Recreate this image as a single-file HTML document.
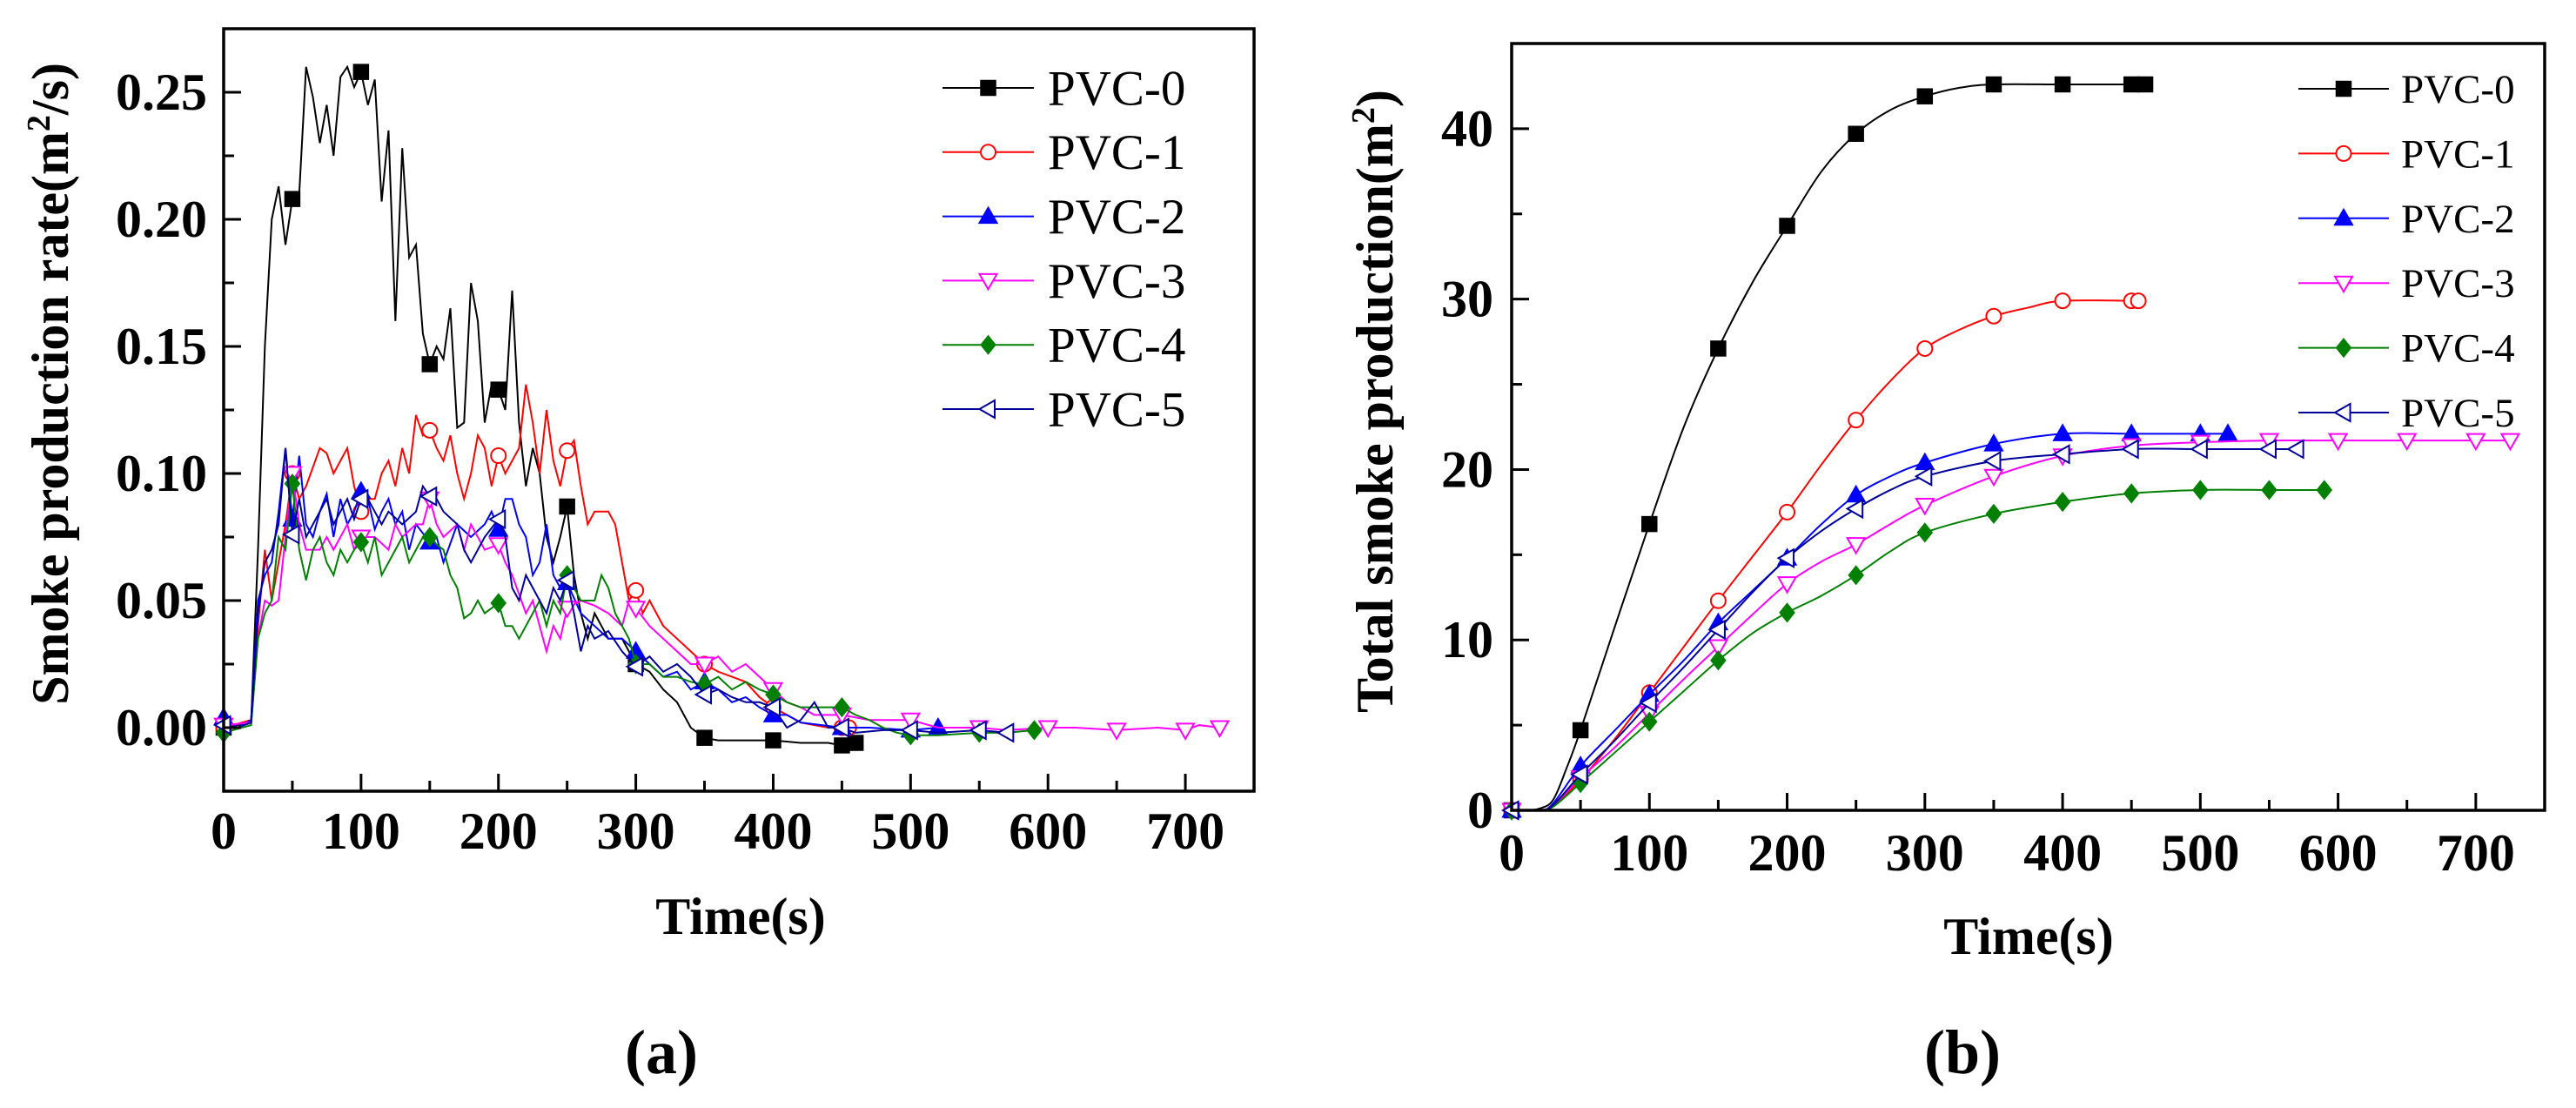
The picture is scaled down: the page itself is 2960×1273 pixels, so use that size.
<!DOCTYPE html>
<html><head><meta charset="utf-8">
<style>
html,body{margin:0;padding:0;background:#fff;}
svg{display:block;}
text{font-family:"Liberation Serif",serif;}
</style></head>
<body>
<svg id="fig" width="2960" height="1273" viewBox="0 0 2960 1273" xmlns="http://www.w3.org/2000/svg"></svg>
<script>
// ---------- Chart (a): smoke production rate ----------
const rateT0 = [0,10,20,25,30,35,40,45,50,55,60,65,70,75,80,85,90,95,100,105,110,115,120,125,130,135,140,145,150,155,160,165,170,175,180,185,190,195,200,205,210,215,220,225,230,235,240,245,250,255,260,265,270,275,280,290,300,310,320,330,340,350,360,380,400,420,440,450,460];
const rateV0 = [0,0.001,0.002,0.07,0.15,0.2,0.213,0.19,0.208,0.21,0.26,0.248,0.23,0.245,0.225,0.256,0.26,0.252,0.258,0.245,0.255,0.207,0.235,0.16,0.228,0.185,0.19,0.155,0.143,0.15,0.145,0.165,0.118,0.12,0.175,0.16,0.12,0.135,0.133,0.125,0.172,0.12,0.095,0.11,0.1,0.075,0.065,0.075,0.087,0.06,0.045,0.035,0.045,0.04,0.035,0.035,0.025,0.022,0.015,0.01,0,-0.004,-0.005,-0.005,-0.005,-0.006,-0.006,-0.007,-0.006];
const rateT1 = [0,20,25,30,35,40,45,50,55,60,70,75,80,90,95,100,105,110,115,120,125,130,135,140,145,150,155,160,165,170,175,180,185,190,195,200,205,210,215,220,225,230,235,240,245,250,255,260,265,270,280,285,290,295,300,305,310,320,330,340,350,360,370,380,390,400,420,440,450,455];
const rateV1 = [0,0.003,0.04,0.07,0.05,0.065,0.08,0.1,0.09,0.095,0.11,0.108,0.1,0.11,0.095,0.085,0.09,0.09,0.1,0.105,0.095,0.11,0.1,0.123,0.115,0.117,0.11,0.105,0.115,0.1,0.09,0.1,0.115,0.11,0.095,0.107,0.1,0.105,0.11,0.135,0.12,0.1,0.125,0.105,0.095,0.109,0.113,0.095,0.08,0.085,0.085,0.08,0.065,0.05,0.054,0.045,0.05,0.04,0.035,0.03,0.025,0.022,0.02,0.018,0.012,0.008,0.002,0,0,0];
const rateT2 = [0,10,20,25,30,35,40,45,50,55,60,65,70,75,80,85,90,95,100,105,110,115,120,125,130,135,140,150,155,160,170,180,190,195,200,205,210,215,220,225,230,235,240,245,250,260,270,280,290,300,310,320,330,340,350,360,370,380,390,400,410,420,450,470,500,520];
const rateV2 = [0.004,0,0.003,0.05,0.06,0.065,0.085,0.11,0.082,0.107,0.08,0.075,0.085,0.092,0.075,0.09,0.08,0.085,0.093,0.09,0.078,0.085,0.09,0.08,0.085,0.07,0.08,0.073,0.075,0.065,0.08,0.075,0.08,0.085,0.078,0.09,0.09,0.08,0.075,0.06,0.065,0.08,0.06,0.055,0.057,0.045,0.04,0.035,0.035,0.03,0.025,0.02,0.022,0.015,0.018,0.015,0.01,0.012,0.008,0.005,0.005,0.002,0,0,-0.001,0];
const rateT3 = [0,20,25,30,35,40,45,50,55,60,70,75,80,90,95,100,110,120,125,130,140,145,150,155,160,170,175,180,190,200,205,210,220,225,230,235,240,245,250,260,270,280,290,295,300,310,320,330,340,350,360,370,380,390,400,410,420,430,450,470,500,520,550,570,600,620,650,680,700,710,725];
const rateV3 = [0.001,0.002,0.035,0.05,0.048,0.05,0.075,0.1,0.08,0.07,0.07,0.075,0.07,0.08,0.07,0.075,0.075,0.07,0.08,0.075,0.08,0.08,0.09,0.08,0.075,0.08,0.07,0.08,0.07,0.072,0.065,0.06,0.045,0.05,0.04,0.03,0.04,0.035,0.047,0.05,0.048,0.045,0.04,0.05,0.047,0.04,0.035,0.03,0.025,0.025,0.028,0.022,0.025,0.02,0.015,0.01,0.008,0.005,0.005,0.003,0.003,0,0,-0.001,0,0,-0.001,0,-0.001,0.001,0];
const rateT4 = [0,20,25,30,35,40,45,50,55,60,65,70,75,80,85,90,95,100,105,110,115,120,125,130,135,140,145,150,155,160,165,170,175,180,185,190,200,205,210,215,220,225,230,235,240,245,250,255,260,270,275,280,285,290,295,300,310,320,330,340,350,360,370,380,390,400,410,420,430,440,450,460,470,480,490,500,520,550,570,590];
const rateV4 = [-0.002,0.001,0.035,0.045,0.05,0.075,0.07,0.096,0.07,0.058,0.07,0.075,0.065,0.06,0.07,0.065,0.07,0.073,0.065,0.075,0.06,0.065,0.07,0.075,0.065,0.07,0.075,0.075,0.072,0.07,0.06,0.055,0.043,0.045,0.05,0.045,0.049,0.04,0.04,0.035,0.04,0.045,0.05,0.04,0.05,0.045,0.06,0.055,0.05,0.05,0.06,0.055,0.045,0.04,0.035,0.025,0.025,0.02,0.02,0.018,0.017,0.02,0.015,0.018,0.015,0.013,0.01,0.008,0.008,0.008,0.008,0.005,0.003,0,-0.002,-0.003,-0.003,-0.002,-0.002,-0.001];
const rateT5 = [0,10,20,25,30,35,40,45,50,55,60,65,70,75,80,85,90,95,100,105,110,115,120,130,140,145,150,155,160,170,175,180,190,200,205,210,215,220,225,230,235,240,245,250,255,260,265,270,280,290,300,310,320,330,340,350,360,370,380,390,400,410,420,430,440,450,460,480,500,520,550,570];
const rateV5 = [0.001,0,0.002,0.045,0.065,0.07,0.08,0.11,0.076,0.09,0.075,0.08,0.085,0.09,0.08,0.085,0.09,0.082,0.09,0.09,0.085,0.08,0.085,0.08,0.085,0.095,0.091,0.09,0.085,0.08,0.07,0.065,0.075,0.082,0.075,0.055,0.05,0.06,0.055,0.05,0.045,0.055,0.05,0.058,0.045,0.03,0.04,0.035,0.038,0.03,0.024,0.028,0.022,0.025,0.02,0.013,0.015,0.012,0.01,0.01,0.008,0,0.003,0.01,0,0,-0.002,-0.001,-0.001,-0.002,-0.001,-0.002];

// ---------- Chart (b): total smoke production ----------
const totT0 = [0,10,20,30,40,50,75,100,125,150,175,200,225,250,275,300,325,350,400,450,460];
const totV0 = [0,0,0.1,0.6,2.5,4.7,10.8,16.8,22.5,27.1,31,34.3,37.5,39.7,41.1,41.9,42.4,42.6,42.6,42.6,42.6];
const totT1 = [0,20,30,50,75,100,125,150,175,200,225,250,275,300,325,350,375,400,450,455];
const totV1 = [0,0,0.3,1.8,4.2,6.9,9.6,12.3,14.9,17.5,20.3,22.9,25.2,27.1,28.2,29.0,29.5,29.9,29.9,29.9];
const totT2 = [0,20,30,50,75,100,125,150,175,200,225,250,275,300,350,400,450,500,520];
const totV2 = [0,0,0.4,2.6,4.7,6.8,8.8,11.0,12.9,14.8,16.8,18.5,19.6,20.4,21.5,22.1,22.1,22.1,22.1];
const totT3 = [0,20,30,50,75,100,125,150,175,200,225,250,275,300,350,400,450,500,550,600,650,700,725];
const totV3 = [0,0,0.3,1.9,3.7,5.7,7.7,9.6,11.5,13.3,14.6,15.6,16.8,17.9,19.6,20.8,21.4,21.6,21.7,21.7,21.7,21.7,21.7];
const totT4 = [0,20,30,50,75,100,125,150,175,200,225,250,275,300,350,400,450,500,550,590];
const totV4 = [0,0,0.2,1.6,3.4,5.2,7.0,8.8,10.4,11.6,12.6,13.8,15.2,16.3,17.4,18.1,18.6,18.8,18.8,18.8];
const totT5 = [0,20,30,50,75,100,125,150,175,200,225,250,275,300,350,400,450,500,550,570];
const totV5 = [0,0,0.3,2.1,4.1,6.3,8.4,10.6,12.8,14.8,16.4,17.7,18.8,19.6,20.5,20.9,21.2,21.2,21.2,21.2];

const seriesNames = ["PVC-0","PVC-1","PVC-2","PVC-3","PVC-4","PVC-5"];
const xTicks = [0,100,200,300,400,500,600,700];
const yTicksA = [0,0.05,0.10,0.15,0.20,0.25];
const yTickLabelsA = ["0.00","0.05","0.10","0.15","0.20","0.25"];
const yTicksB = [0,10,20,30,40];
const yTickLabelsB = ["0","10","20","30","40"];

const NS = "http://www.w3.org/2000/svg";
const svg = document.getElementById("fig");
const styles = [
  {c:"#000000", fill:"#000000", m:"square"},
  {c:"#ff0000", fill:"none", m:"circle"},
  {c:"#0000ff", fill:"#0000ff", m:"up"},
  {c:"#ff00ff", fill:"none", m:"down"},
  {c:"#008000", fill:"#008000", m:"diamond"},
  {c:"#000099", fill:"none", m:"left"}
];
function mk(tag, attrs, parent){
  const e = document.createElementNS(NS, tag);
  for (const k in attrs) e.setAttribute(k, attrs[k]);
  (parent||svg).appendChild(e);
  return e;
}
function marker(g, kind, x, y, st){
  let e;
  const s = 8.5;
  const fill = st.fill === "none" ? "#ffffff" : st.fill;
  if (kind==="square") e = mk("rect",{x:x-s,y:y-s,width:2*s,height:2*s,fill:fill,stroke:st.c,"stroke-width":1.5},g);
  else if (kind==="circle") e = mk("circle",{cx:x,cy:y,r:s,fill:fill,stroke:st.c,"stroke-width":2},g);
  else {
    let p;
    const r = 10;
    if (kind==="up") p=[[x,y-r],[x+r,y+r*0.75],[x-r,y+r*0.75]];
    if (kind==="down") p=[[x,y+r],[x+r,y-r*0.75],[x-r,y-r*0.75]];
    if (kind==="left") p=[[x-r,y],[x+r*0.75,y-r],[x+r*0.75,y+r]];
    if (kind==="diamond") p=[[x,y-r],[x+r*0.8,y],[x,y+r],[x-r*0.8,y]];
    e = mk("polygon",{points:p.map(q=>q.join(",")).join(" "),fill:fill,stroke:st.c,"stroke-width":2},g);
  }
  
  
}
function drawChart(cfg){
  const {L,R,T,B,xmin,xmax,ymin,ymax} = cfg;
  const xs = v => L + (v - xmin)/(xmax - xmin)*(R - L);
  const ys = v => B - (v - ymin)/(ymax - ymin)*(B - T);
  const g = mk("g",{});
  
  
  cfg.series.forEach((s,i)=>{
    const st = styles[i];
    const sg = mk("g",{},g);
    
    
    const pts = s.t.map((t,k)=>[xs(t), ys(s.v[k])]);
    let d;
    if (cfg.smooth){
      d = "M"+pts[0][0]+","+pts[0][1];
      for (let k=0;k<pts.length-1;k++){
        const p0=pts[Math.max(0,k-1)],p1=pts[k],p2=pts[k+1],p3=pts[Math.min(pts.length-1,k+2)];
        const c1=[p1[0]+(p2[0]-p0[0])/6,p1[1]+(p2[1]-p0[1])/6];
        const c2=[p2[0]-(p3[0]-p1[0])/6,p2[1]-(p3[1]-p1[1])/6];
        d+=" C"+c1[0]+","+c1[1]+" "+c2[0]+","+c2[1]+" "+p2[0]+","+p2[1];
      }
    } else d = "M"+pts.map(p=>p.join(",")).join(" L");
    const path = mk("path",{d:d,fill:"none",stroke:st.c,"stroke-width":2},sg);
    
    
    s.t.forEach((t,k)=>{
      if (t%50===0 || k===s.t.length-1) marker(sg, st.m, xs(t), ys(s.v[k]), st);
    });
  });
  const fr = mk("rect",{x:L,y:T,width:R-L,height:B-T,fill:"none",stroke:"#000","stroke-width":3.5},g);
  
  
  for (let v=xmin; v<=xmax; v+=50){
    const major = v%100===0;
    const tk = mk("line",{x1:xs(v),x2:xs(v),y1:B,y2:B-(major?20:12),stroke:"#000","stroke-width":3},g);
    
    
  }
  xTicks.forEach(v=>{
    const t = mk("text",{x:xs(v),y:cfg.xLabY,"text-anchor":"middle","font-size":60,"font-weight":"bold"},g);
    t.textContent = String(v);
    
    
  });
  for (let v=ymin; v<=ymax+1e-9; v+=cfg.minorStep){
    const vv = Math.round(v/cfg.minorStep)*cfg.minorStep;
    const major = Math.abs(vv/cfg.majorStep - Math.round(vv/cfg.majorStep))<1e-6;
    const tk = mk("line",{x1:L,x2:L+(major?20:12),y1:ys(vv),y2:ys(vv),stroke:"#000","stroke-width":3},g);
    
    
  }
  cfg.yTicks.forEach((v,i)=>{
    const t = mk("text",{x:cfg.yLabX,y:ys(v)+20,"text-anchor":"end","font-size":60,"font-weight":"bold"},g);
    t.textContent = cfg.yTickLabels[i];
    
    
  });
  const lg = mk("g",{},g);
  
  
  seriesNames.forEach((n,i)=>{
    const st = styles[i];
    const y = cfg.leg.y0 + i*cfg.leg.dy;
    const eg = mk("g",{},lg);
    
    
    mk("line",{x1:cfg.leg.x1,x2:cfg.leg.x2,y1:y,y2:y,stroke:st.c,"stroke-width":2},eg);
    marker(eg, st.m, (cfg.leg.x1+cfg.leg.x2)/2, y, st);
    const t = mk("text",{x:cfg.leg.tx,y:y+cfg.leg.fs*0.34,"font-size":cfg.leg.fs},eg);
    t.textContent = n;
  });
}
drawChart({name:"chart-a-smoke-rate",L:257,R:1441,T:33,B:909,xmin:0,xmax:750,ymin:-0.025,ymax:0.275,
  minorStep:0.025,majorStep:0.05,yTicks:yTicksA,yTickLabels:yTickLabelsA,yLabX:238,xLabY:975,smooth:false,
  leg:{x1:1083,x2:1188,tx:1204,y0:101,dy:73.8,fs:57},
  series:[{t:rateT0,v:rateV0},{t:rateT1,v:rateV1},{t:rateT2,v:rateV2},{t:rateT3,v:rateV3},{t:rateT4,v:rateV4},{t:rateT5,v:rateV5}]});
drawChart({name:"chart-b-total-smoke",L:1737,R:2924,T:50,B:931,xmin:0,xmax:750,ymin:0,ymax:45,
  minorStep:5,majorStep:10,yTicks:yTicksB,yTickLabels:yTickLabelsB,yLabX:1716,xLabY:1000,smooth:true,
  leg:{x1:2641,x2:2745,tx:2759,y0:102,dy:74.4,fs:47},
  series:[{t:totT0,v:totV0},{t:totT1,v:totV1},{t:totT2,v:totV2},{t:totT3,v:totV3},{t:totT4,v:totV4},{t:totT5,v:totV5}]});
</script>
<script>
(function(){
  const s = document.getElementById("fig");
  const NS2 = "http://www.w3.org/2000/svg";
  function txt(x,y,str,attrs,name){
    const t = document.createElementNS(NS2,"text");
    t.setAttribute("x",x); t.setAttribute("y",y);
    for (const k in attrs) t.setAttribute(k,attrs[k]);
    t.textContent = str;
    
    
    s.appendChild(t); return t;
  }
  txt(851,1073,"Time(s)",{"text-anchor":"middle","font-size":60,"font-weight":"bold"},"x-axis-title-a");
  txt(2331,1096,"Time(s)",{"text-anchor":"middle","font-size":60,"font-weight":"bold"},"x-axis-title-b");
  txt(760,1233,"(a)",{"text-anchor":"middle","font-size":72,"font-weight":"bold"},"panel-label-a");
  txt(2255,1233,"(b)",{"text-anchor":"middle","font-size":72,"font-weight":"bold"},"panel-label-b");
  const ya = document.createElementNS(NS2,"text");
  ya.setAttribute("transform","translate(78,441) rotate(-90)");
  ya.setAttribute("text-anchor","middle"); ya.setAttribute("font-size","60"); ya.setAttribute("font-weight","bold");
  ya.innerHTML = 'Smoke production rate(m<tspan baseline-shift="super" font-size="38">2</tspan>/s)';
  
  
  s.appendChild(ya);
  const yb = document.createElementNS(NS2,"text");
  yb.setAttribute("transform","translate(1600,461) rotate(-90)");
  yb.setAttribute("text-anchor","middle"); yb.setAttribute("font-size","60"); yb.setAttribute("font-weight","bold");
  yb.innerHTML = 'Total smoke production(m<tspan baseline-shift="super" font-size="38">2</tspan>)';
  
  
  s.appendChild(yb);
})();
</script>
</body></html>
